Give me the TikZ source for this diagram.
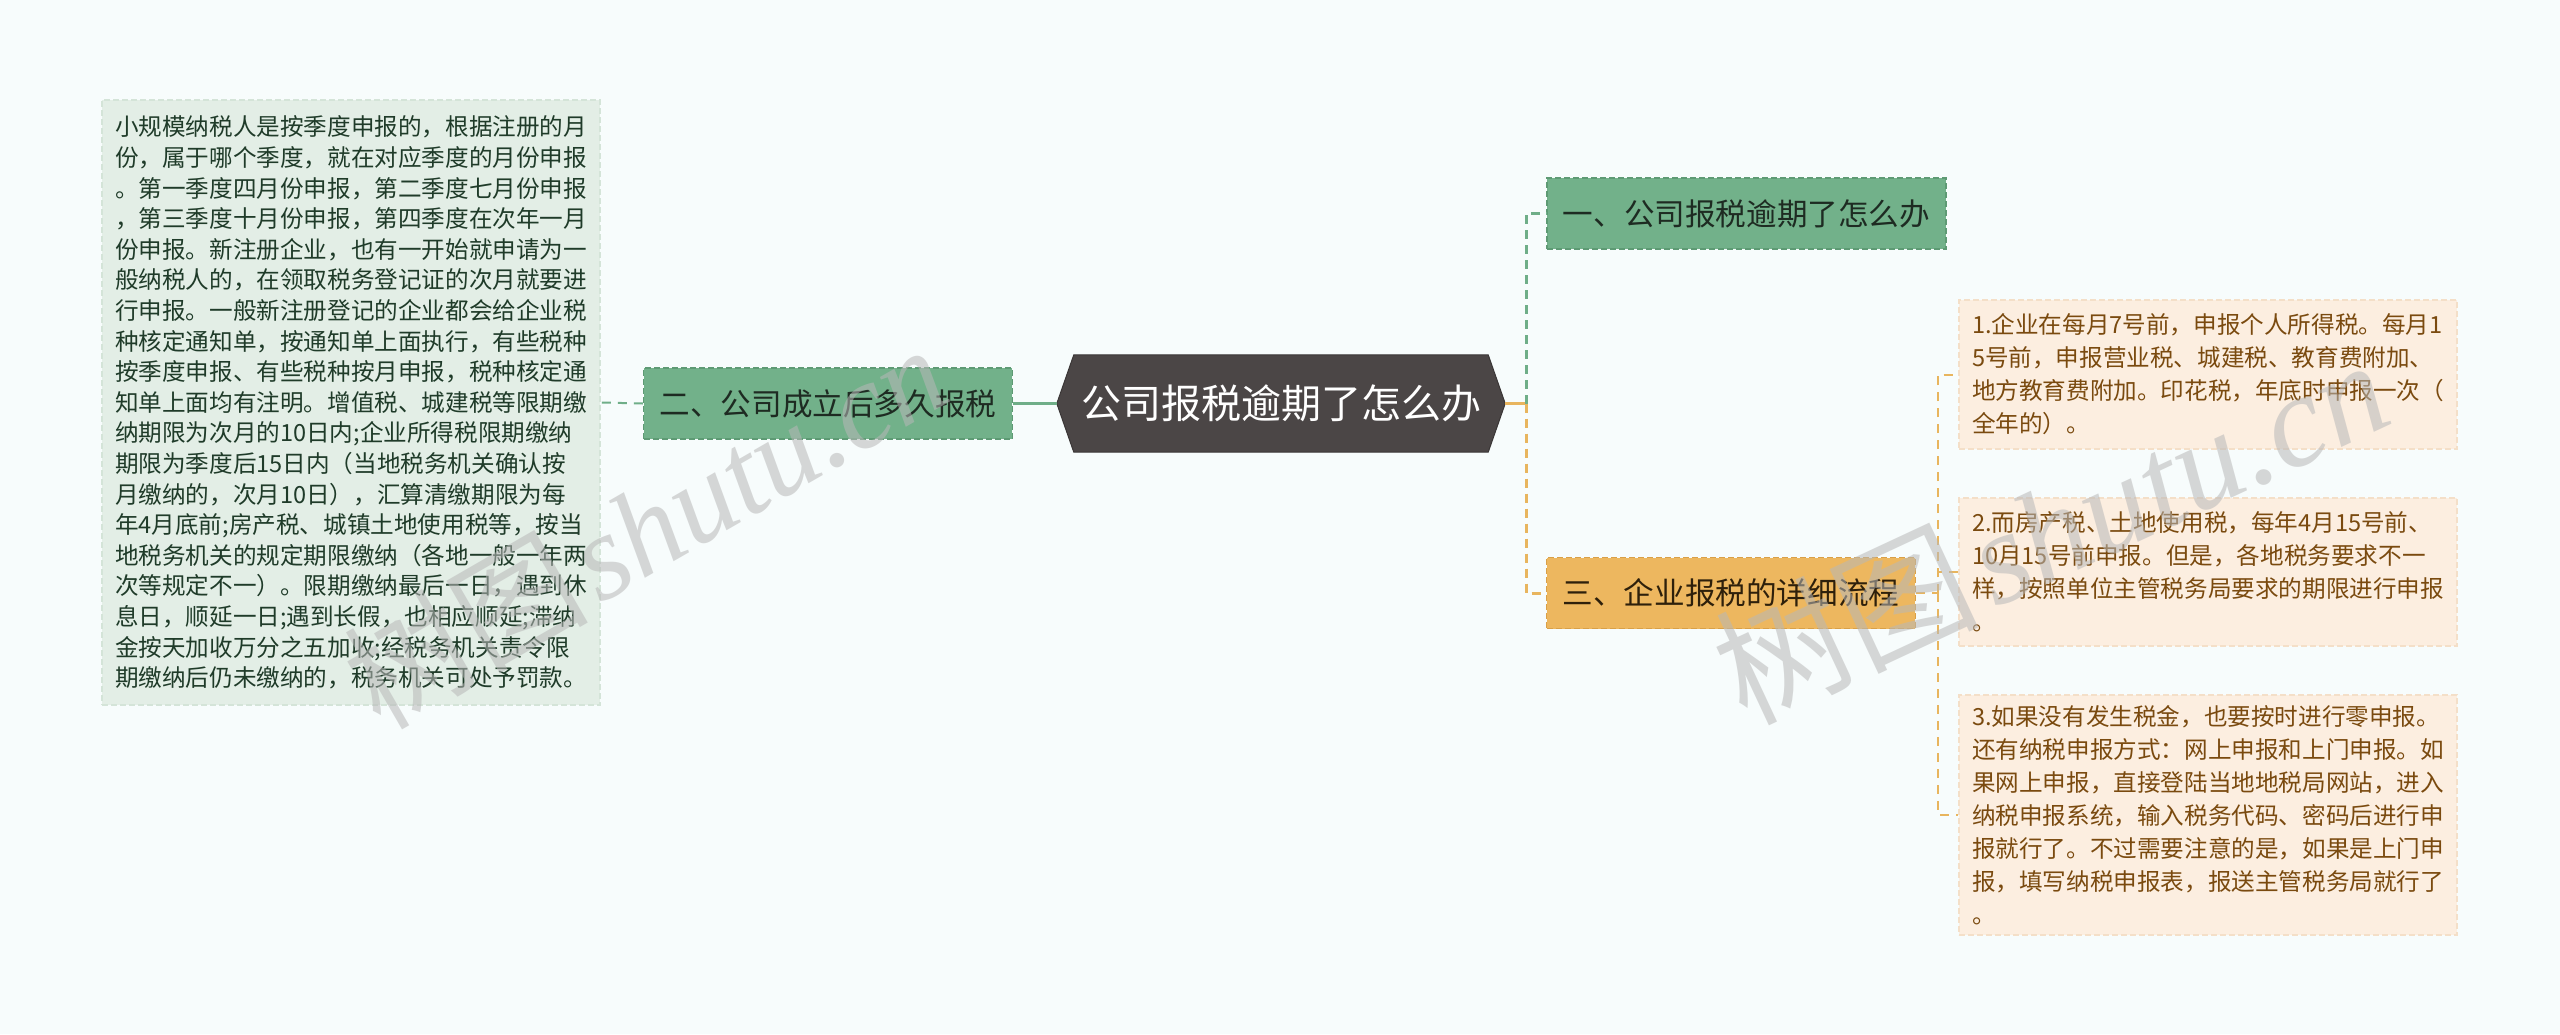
\documentclass[tikz,border=0pt]{standalone}
\usepackage{fontspec}
\setmainfont{Noto Sans CJK SC}
\newfontfamily\wmserif{Liberation Serif}
\usetikzlibrary{backgrounds}
\definecolor{bgc}{HTML}{F7FCFC}
\definecolor{rootfill}{HTML}{4B4646}
\definecolor{rootedge}{HTML}{3A3636}
\definecolor{gfill}{HTML}{72B18A}
\definecolor{gborder}{HTML}{5E9A74}
\definecolor{gtext}{HTML}{1E2B22}
\definecolor{ofill}{HTML}{EDB75F}
\definecolor{oborder}{HTML}{D9A048}
\definecolor{otext}{HTML}{2E200B}
\definecolor{lgfill}{HTML}{E3EEE6}
\definecolor{lgborder}{HTML}{D4E4D8}
\definecolor{lgtext}{HTML}{1F3B29}
\definecolor{rfill}{HTML}{FCEEE0}
\definecolor{rborder}{HTML}{F4DFC8}
\definecolor{rtext}{HTML}{7A4A0F}
\definecolor{gline}{HTML}{6FAE88}
\definecolor{oline}{HTML}{E8B55E}
\definecolor{wm}{HTML}{B8B8B8}
\tikzset{
  rootbox/.style={minimum width=448pt, minimum height=97pt, inner sep=0pt,
    text=white, font=\fontsize{40pt}{48pt}\selectfont},
  branchbox/.style={minimum height=71pt, inner xsep=16pt, inner ysep=0pt,
    line width=1.5pt, dash pattern=on 6pt off 3pt,
    font=\fontsize{30.6pt}{36pt}\selectfont},
  gbranch/.style={branchbox, fill=gfill, draw=gborder, text=gtext},
  obranch/.style={branchbox, fill=ofill, draw=oborder, text=otext},
  leafbox/.style={text width=472pt, inner xsep=13pt, inner ysep=0pt, align=left,
    line width=1.5pt, dash pattern=on 6pt off 3pt},
  gleaf/.style={leafbox, fill=lgfill, draw=lgborder, text=lgtext,
    font=\fontsize{23.6pt}{30.6pt}\selectfont},
  oleaf/.style={leafbox, fill=rfill, draw=rborder, text=rtext,
    font=\fontsize{23.6pt}{33pt}\selectfont},
  gsolid/.style={draw=gline, line width=3.5pt},
  osolid/.style={draw=oline, line width=3.5pt},
  gdash/.style={draw=gline, line width=3pt, dash pattern=on 9pt off 6pt},
  odash/.style={draw=oline, line width=3pt, dash pattern=on 9pt off 6pt},
  gthin/.style={draw=gline, line width=2pt, dash pattern=on 9pt off 7pt},
  othin/.style={draw=oline, line width=2pt, dash pattern=on 9pt off 7pt},
  wmark/.style={text=wm, opacity=0.55, inner sep=0pt}
}
\begin{document}
\begin{tikzpicture}[x=1pt,y=-1pt]
\useasboundingbox (0,0) rectangle (2560,1034);

% nodes
\node[rootbox] (root) at (1281,403.5) {公司报税逾期了怎么办};

\node[gbranch, minimum width=368pt] (b2) at (828,403.5) {二、公司成立后多久报税};
\node[gbranch, minimum width=399pt] (b1) at (1746.5,213.5) {一、公司报税逾期了怎么办};
\node[obranch, minimum width=368pt] (b3) at (1731,593) {三、企业报税的详细流程};

\node[gleaf, minimum height=605pt] (leafL) at (351,402.5) {%
小规模纳税人是按季度申报的，根据注册的月\\
份，属于哪个季度，就在对应季度的月份申报\\
。第一季度四月份申报，第二季度七月份申报\\
，第三季度十月份申报，第四季度在次年一月\\
份申报。新注册企业，也有一开始就申请为一\\
般纳税人的，在领取税务登记证的次月就要进\\
行申报。一般新注册登记的企业都会给企业税\\
种核定通知单，按通知单上面执行，有些税种\\
按季度申报、有些税种按月申报，税种核定通\\
知单上面均有注明。增值税、城建税等限期缴\\
纳期限为次月的10日内;企业所得税限期缴纳\\
期限为季度后15日内（当地税务机关确认按\\
月缴纳的，次月10日），汇算清缴期限为每\\
年4月底前;房产税、城镇土地使用税等，按当\\
地税务机关的规定期限缴纳（各地一般一年两\\
次等规定不一）。限期缴纳最后一日，遇到休\\
息日，顺延一日;遇到长假，也相应顺延;滞纳\\
金按天加收万分之五加收;经税务机关责令限\\
期缴纳后仍未缴纳的，税务机关可处予罚款。};

\node[oleaf, minimum height=149pt] (r1) at (2208,374.5) {%
1.企业在每月7号前，申报个人所得税。每月1\\
5号前，申报营业税、城建税、教育费附加、\\
地方教育费附加。印花税，年底时申报一次（\\
全年的）。};

\node[oleaf, minimum height=148pt] (r2) at (2208,572) {%
2.而房产税、土地使用税，每年4月15号前、\\
10月15号前申报。但是，各地税务要求不一\\
样，按照单位主管税务局要求的期限进行申报\\
。};

\node[oleaf, minimum height=240pt] (r3) at (2208,815) {%
3.如果没有发生税金，也要按时进行零申报。\\
还有纳税申报方式：网上申报和上门申报。如\\
果网上申报，直接登陆当地地税局网站，进入\\
纳税申报系统，输入税务代码、密码后进行申\\
报就行了。不过需要注意的是，如果是上门申\\
报，填写纳税申报表，报送主管税务局就行了\\
。};

% background and root shape
\begin{pgfonlayer}{background}
\fill[bgc] (0,0) rectangle (2560,1034);
\filldraw[fill=rootfill, draw=rootedge, line width=1pt]
  (root.west) -- ([xshift=17pt]root.north west) -- ([xshift=-17pt]root.north east)
  -- (root.east) -- ([xshift=-17pt]root.south east) -- ([xshift=17pt]root.south west) -- cycle;
\end{pgfonlayer}

% connectors
\coordinate (jR) at (1526,403.5);
\coordinate (j3) at (1938,593);
\draw[gsolid] (root.west) -- (b2.east);
\draw[gthin] (b2.west) -- (leafL.east);
\draw[osolid] (root.east) -- (jR);
\draw[gdash] (jR) |- (b1.west);
\draw[odash] (jR) |- (b3.west);
\draw[othin] (b3.east) -- (j3);
\draw[othin] (j3) |- (r1.west);
\draw[othin] (j3) |- (r2.west);
\draw[othin] (j3) |- (r3.west);

% watermarks
\node[wmark, rotate=30, font=\fontsize{122pt}{122pt}\selectfont] (wm1) at (645,525)
  {树图\hspace{10pt}{\wmserif\itshape shutu.cn}};
\node[wmark, rotate=25, font=\fontsize{132pt}{132pt}\selectfont] (wm2) at (2050,528)
  {树图\hspace{12pt}{\wmserif\itshape shutu.cn}};
\end{tikzpicture}
\end{document}
